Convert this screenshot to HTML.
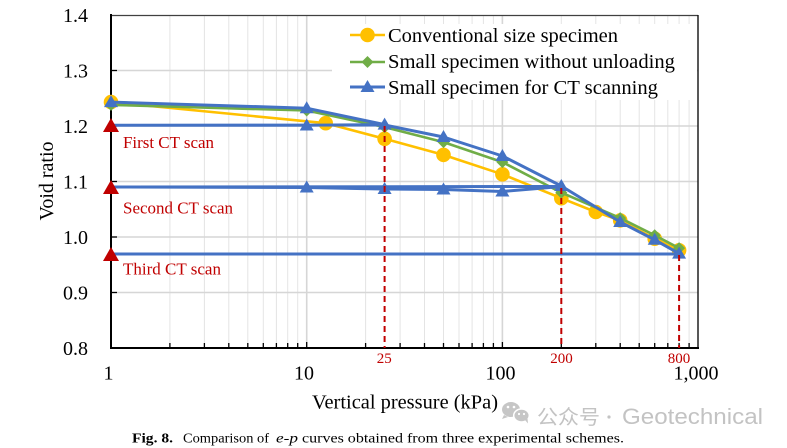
<!DOCTYPE html>
<html><head><meta charset="utf-8"><style>
html,body{margin:0;padding:0;background:#fff;}
svg{display:block;}
text{font-family:"Liberation Serif","Times New Roman",serif;}
</style></head><body>
<svg width="787" height="448" viewBox="0 0 787 448" xmlns="http://www.w3.org/2000/svg">
<rect width="787" height="448" fill="#fff"/>
<!-- minor vertical gridlines -->
<g stroke="#e4e4e4" stroke-width="1">
<line x1="169.9" y1="15" x2="169.9" y2="348"/><line x1="204.4" y1="15" x2="204.4" y2="348"/><line x1="228.8" y1="15" x2="228.8" y2="348"/><line x1="247.8" y1="15" x2="247.8" y2="348"/><line x1="263.3" y1="15" x2="263.3" y2="348"/><line x1="276.4" y1="15" x2="276.4" y2="348"/><line x1="287.7" y1="15" x2="287.7" y2="348"/><line x1="297.7" y1="15" x2="297.7" y2="348"/>
<line x1="365.6" y1="15" x2="365.6" y2="348"/><line x1="400.1" y1="15" x2="400.1" y2="348"/><line x1="424.5" y1="15" x2="424.5" y2="348"/><line x1="443.5" y1="15" x2="443.5" y2="348"/><line x1="459.0" y1="15" x2="459.0" y2="348"/><line x1="472.1" y1="15" x2="472.1" y2="348"/><line x1="483.4" y1="15" x2="483.4" y2="348"/><line x1="493.4" y1="15" x2="493.4" y2="348"/>
<line x1="561.3" y1="15" x2="561.3" y2="348"/><line x1="595.8" y1="15" x2="595.8" y2="348"/><line x1="620.2" y1="15" x2="620.2" y2="348"/><line x1="639.2" y1="15" x2="639.2" y2="348"/><line x1="654.7" y1="15" x2="654.7" y2="348"/><line x1="667.8" y1="15" x2="667.8" y2="348"/><line x1="679.1" y1="15" x2="679.1" y2="348"/><line x1="689.1" y1="15" x2="689.1" y2="348"/>
</g>
<g stroke="#d6d6d6" stroke-width="1.6">
<line x1="306.7" y1="15" x2="306.7" y2="348"/><line x1="502.4" y1="15" x2="502.4" y2="348"/>
<line x1="111" y1="70.5" x2="698" y2="70.5"/><line x1="111" y1="126" x2="698" y2="126"/><line x1="111" y1="181.5" x2="698" y2="181.5"/><line x1="111" y1="237" x2="698" y2="237"/><line x1="111" y1="292.5" x2="698" y2="292.5"/>
</g>
<!-- legend box -->
<rect x="332" y="24" width="365" height="76" fill="#fff"/>
<!-- axes frame -->
<line x1="111" y1="15.5" x2="698" y2="15.5" stroke="#404040" stroke-width="1.2"/>
<line x1="698" y1="15" x2="698" y2="348" stroke="#111" stroke-width="1.4"/>
<line x1="111" y1="14" x2="111" y2="349" stroke="#000" stroke-width="2"/>
<line x1="110" y1="348" x2="699" y2="348" stroke="#000" stroke-width="2"/>
<!-- ticks -->
<g stroke="#000" stroke-width="1.3">
<line x1="111" y1="70.5" x2="117" y2="70.5"/><line x1="111" y1="126" x2="117" y2="126"/><line x1="111" y1="181.5" x2="117" y2="181.5"/><line x1="111" y1="237" x2="117" y2="237"/><line x1="111" y1="292.5" x2="117" y2="292.5"/>
<line x1="169.9" y1="348" x2="169.9" y2="343"/><line x1="204.4" y1="348" x2="204.4" y2="343"/><line x1="228.8" y1="348" x2="228.8" y2="343"/><line x1="247.8" y1="348" x2="247.8" y2="343"/><line x1="263.3" y1="348" x2="263.3" y2="343"/><line x1="276.4" y1="348" x2="276.4" y2="343"/><line x1="287.7" y1="348" x2="287.7" y2="343"/><line x1="297.7" y1="348" x2="297.7" y2="343"/><line x1="306.7" y1="348" x2="306.7" y2="342"/>
<line x1="365.6" y1="348" x2="365.6" y2="343"/><line x1="400.1" y1="348" x2="400.1" y2="343"/><line x1="424.5" y1="348" x2="424.5" y2="343"/><line x1="443.5" y1="348" x2="443.5" y2="343"/><line x1="459.0" y1="348" x2="459.0" y2="343"/><line x1="472.1" y1="348" x2="472.1" y2="343"/><line x1="483.4" y1="348" x2="483.4" y2="343"/><line x1="493.4" y1="348" x2="493.4" y2="343"/><line x1="502.4" y1="348" x2="502.4" y2="342"/>
<line x1="561.3" y1="348" x2="561.3" y2="343"/><line x1="595.8" y1="348" x2="595.8" y2="343"/><line x1="620.2" y1="348" x2="620.2" y2="343"/><line x1="639.2" y1="348" x2="639.2" y2="343"/><line x1="654.7" y1="348" x2="654.7" y2="343"/><line x1="667.8" y1="348" x2="667.8" y2="343"/><line x1="679.1" y1="348" x2="679.1" y2="343"/><line x1="689.1" y1="348" x2="689.1" y2="343"/>
</g>

<!-- Yellow: conventional -->
<polyline fill="none" stroke="#FFC000" stroke-width="2.6" stroke-linejoin="round" points="111,102.1 325.7,123.2 384.6,138.8 443.5,154.9 502.4,174.3 561.3,198.2 595.8,212 620.2,220.4 654.7,238.7 679.1,250.3"/>
<g fill="#FFC000">
<circle cx="111" cy="102.1" r="7.3"/><circle cx="325.7" cy="123.2" r="7.3"/><circle cx="384.6" cy="138.8" r="7.3"/><circle cx="443.5" cy="154.9" r="7.3"/><circle cx="502.4" cy="174.3" r="7.3"/><circle cx="561.3" cy="198.2" r="7.3"/><circle cx="595.8" cy="212" r="7.3"/><circle cx="620.2" cy="220.4" r="7.3"/><circle cx="654.7" cy="238.7" r="7.3"/><circle cx="679.1" cy="250.3" r="7.3"/>
</g>
<!-- Green: small without unloading -->
<polyline fill="none" stroke="#70AD47" stroke-width="2.6" stroke-linejoin="round" points="111,104.9 306.7,110.5 384.6,127.1 443.5,142.1 502.4,162.1 561.3,192.6 620.2,218.1 654.7,235.3 679.1,248.1"/>
<g fill="#70AD47">
<path d="M111,98.9 l6,6 l-6,6 l-6,-6z"/><path d="M306.7,104.5 l6,6 l-6,6 l-6,-6z"/><path d="M384.6,121.1 l6,6 l-6,6 l-6,-6z"/><path d="M443.5,136.1 l6,6 l-6,6 l-6,-6z"/><path d="M502.4,156.1 l6,6 l-6,6 l-6,-6z"/><path d="M561.3,186.6 l6,6 l-6,6 l-6,-6z"/><path d="M620.2,212.1 l6,6 l-6,6 l-6,-6z"/><path d="M654.7,229.3 l6,6 l-6,6 l-6,-6z"/><path d="M679.1,242.1 l6,6 l-6,6 l-6,-6z"/>
</g>
<!-- Blue: CT scanning -->
<g fill="none" stroke="#4472C4" stroke-width="3" stroke-linejoin="round">
<polyline points="111,102.1 306.7,108.2 384.6,124.6 306.7,125.2 111,125.2 384.6,125 443.5,137 502.4,156 561.3,186 620.2,222 654.7,239.8 679.1,253.6"/>
<polyline points="561.3,186.5 502.4,191.5 443.5,189.5 384.6,189 306.7,187.5 111,187 561.3,186.5"/>
<polyline points="679.1,254 111,254"/>
</g>
<g fill="#4472C4">
<path d="M111,95.1 l7,12 h-14z"/><path d="M306.7,101.2 l7,12 h-14z"/><path d="M384.6,117.6 l7,12 h-14z"/><path d="M306.7,118.5 l7,12 h-14z"/><path d="M443.5,130 l7,12 h-14z"/><path d="M502.4,149 l7,12 h-14z"/><path d="M561.3,179 l7,12 h-14z"/><path d="M502.4,184.5 l7,12 h-14z"/><path d="M443.5,182.5 l7,12 h-14z"/><path d="M384.6,182 l7,12 h-14z"/><path d="M306.7,180.5 l7,12 h-14z"/><path d="M620.2,215 l7,12 h-14z"/><path d="M654.7,232.8 l7,12 h-14z"/><path d="M679.1,246.6 l7,12 h-14z"/>
</g>
<!-- Red dashed and triangles -->
<g stroke="#C00000" stroke-width="2" stroke-dasharray="6,4" fill="none">
<line x1="384.6" y1="126" x2="384.6" y2="348"/>
<line x1="561.3" y1="188" x2="561.3" y2="348"/>
<line x1="679.1" y1="255" x2="679.1" y2="348"/>
</g>
<g fill="#C00000">
<path d="M111,118 l8,14 h-16z"/><path d="M111,180 l8,14 h-16z"/><path d="M111,247 l8,14 h-16z"/>
</g>
<g fill="#C00000" font-size="17">
<text x="123" y="148" textLength="91" lengthAdjust="spacingAndGlyphs">First CT scan</text>
<text x="123" y="213.5" textLength="110" lengthAdjust="spacingAndGlyphs">Second CT scan</text>
<text x="123" y="274.3" textLength="98" lengthAdjust="spacingAndGlyphs">Third CT scan</text>
</g>
<g fill="#C00000" font-size="15" text-anchor="middle">
<text x="384.3" y="363">25</text><text x="561.5" y="363">200</text><text x="679" y="363">800</text>
</g>

<!-- legend -->
<line x1="350" y1="35" x2="385" y2="35" stroke="#FFC000" stroke-width="2.6"/>
<circle cx="367.5" cy="35" r="7.3" fill="#FFC000"/>
<line x1="350" y1="62" x2="385" y2="62" stroke="#70AD47" stroke-width="2.6"/>
<path d="M367.5,56 l6,6 l-6,6 l-6,-6z" fill="#70AD47"/>
<line x1="350" y1="87" x2="385" y2="87" stroke="#4472C4" stroke-width="3"/>
<path d="M367.5,80 l7,12 h-14z" fill="#4472C4"/>
<g font-size="20.5" fill="#000">
<text x="388" y="42" textLength="230" lengthAdjust="spacingAndGlyphs">Conventional size specimen</text>
<text x="388" y="68" textLength="287" lengthAdjust="spacingAndGlyphs">Small specimen without unloading</text>
<text x="388" y="94" textLength="270" lengthAdjust="spacingAndGlyphs">Small specimen for CT scanning</text>
</g>

<!-- tick labels -->
<g font-size="20" fill="#000" text-anchor="end">
<text x="88" y="22">1.4</text><text x="88" y="77.5">1.3</text><text x="88" y="133">1.2</text><text x="88" y="188.5">1.1</text><text x="88" y="244">1.0</text><text x="88" y="299.5">0.9</text><text x="88" y="355">0.8</text>
</g>
<g font-size="20" fill="#000" text-anchor="middle">
<text x="108.5" y="379.5">1</text><text x="304" y="379.5">10</text><text x="500.5" y="379.5">100</text><text x="696" y="379.5">1,000</text>
</g>
<text x="405" y="408.3" font-size="20" text-anchor="middle" textLength="186" lengthAdjust="spacingAndGlyphs">Vertical pressure (kPa)</text>
<text transform="translate(53,181) rotate(-90)" font-size="20" text-anchor="middle" textLength="79" lengthAdjust="spacingAndGlyphs">Void ratio</text>

<!-- watermark -->
<g fill="#c6c6c6">
<ellipse cx="511" cy="409.5" rx="9" ry="7.5"/>
<path d="M504,415 l-2,4 l6,-2z"/>
<ellipse cx="521.5" cy="415.5" rx="7.8" ry="6.5" stroke="#fff" stroke-width="1.5"/>
<path d="M525,420 l3,3.5 l-0.5,-5z"/>
</g>
<g fill="#fff"><circle cx="508" cy="407" r="1.3"/><circle cx="514" cy="407" r="1.3"/><circle cx="519" cy="414" r="1.1"/><circle cx="524" cy="414" r="1.1"/></g>
<text x="537" y="424" font-size="20" fill="#c3c3c3" style="font-family:'Noto Sans CJK SC','WenQuanYi Zen Hei',sans-serif" textLength="63" lengthAdjust="spacingAndGlyphs">公众号</text>
<circle cx="609" cy="417" r="1.6" fill="#c3c3c3"/>
<text x="622" y="424" font-size="22" fill="#c3c3c3" style="font-family:'Liberation Sans',sans-serif" textLength="141" lengthAdjust="spacingAndGlyphs">Geotechnical</text>

<!-- caption -->
<g font-size="14" fill="#000">
<text x="132" y="442.5" font-weight="bold" textLength="41" lengthAdjust="spacingAndGlyphs">Fig. 8.</text>
<text x="183" y="442.5" textLength="86" lengthAdjust="spacingAndGlyphs">Comparison of</text>
<text x="276" y="442.5" font-style="italic" textLength="22" lengthAdjust="spacingAndGlyphs">e-p</text>
<text x="302" y="442.5" textLength="322" lengthAdjust="spacingAndGlyphs">curves obtained from three experimental schemes.</text>
</g>
</svg>
</body></html>
